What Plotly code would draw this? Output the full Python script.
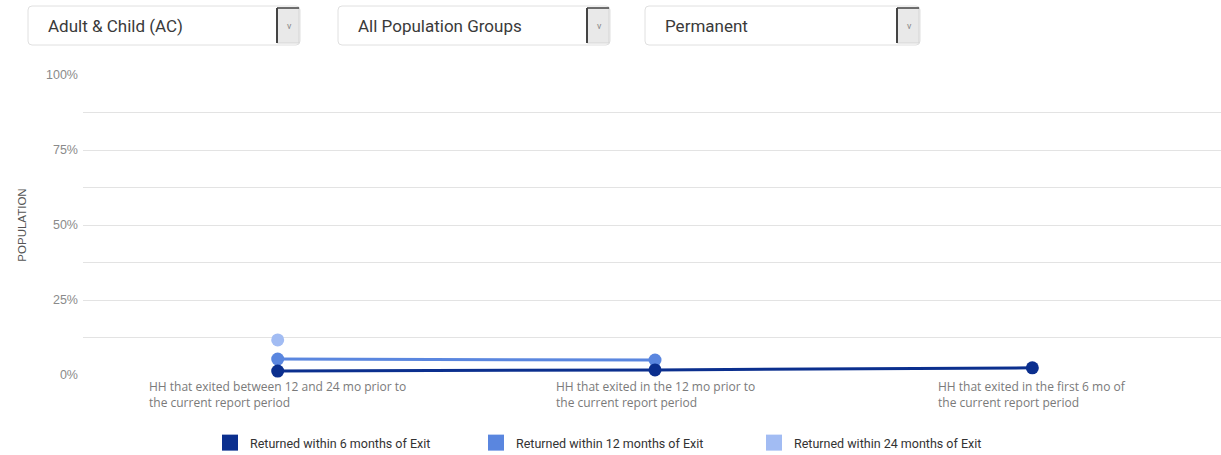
import plotly.graph_objects as go

categories = [
    "HH that exited between 12 and 24 mo prior to<br>the current report period",
    "HH that exited in the 12 mo prior to<br>the current report period",
    "HH that exited in the first 6 mo of<br>the current report period",
]
series_names = [
    "Returned within 6 months of Exit",
    "Returned within 12 months of Exit",
    "Returned within 24 months of Exit",
]
returned_6mo = [1.3, 1.7, 2.4]
returned_12mo = [5.3, 5.0, None]
returned_24mo = [11.7, None, None]
series_values = [returned_6mo, returned_12mo, returned_24mo]
colors = ["#0b2f8e", "#5a86df", "#a2bcf3"]

dropdown_labels = ["Adult & Child (AC)", "All Population Groups", "Permanent"]
y_tickvals = [0, 12.5, 25, 37.5, 50, 62.5, 75, 87.5, 100]
y_ticktext = ["0%", "", "25%", "", "50%", "", "75%", "", "100%"]

W, H = 1221, 455
ML, MR, MT, MB = 83, 0, 75, 80
PW, PH = W - ML - MR, H - MT - MB


def px(xp):
    return (xp - ML) / PW


def py(yp):
    return (H - MB - yp) / PH


def rounded_rect(x0, y0, x1, y1, r):
    X0, X1 = px(x0), px(x1)
    Y0, Y1 = py(y1), py(y0)  # bottom, top in paper coords
    rx, ry = r / PW, r / PH
    return (f"M {X0+rx},{Y0} L {X1-rx},{Y0} Q {X1},{Y0} {X1},{Y0+ry} "
            f"L {X1},{Y1-ry} Q {X1},{Y1} {X1-rx},{Y1} L {X0+rx},{Y1} "
            f"Q {X0},{Y1} {X0},{Y1-ry} L {X0},{Y0+ry} Q {X0},{Y0} {X0+rx},{Y0} Z")


fig = go.Figure()

# draw in reverse so the dark series is on top
for name, vals, col in reversed(list(zip(series_names, series_values, colors))):
    fig.add_trace(go.Scatter(
        x=list(range(len(categories))), y=vals, mode="lines+markers", name=name,
        line=dict(color=col, width=3), marker=dict(color=col, size=13),
        showlegend=False, cliponaxis=False, connectgaps=False,
    ))

# legend-only square swatches, each in its own legend for exact placement
legend_ids = ["legend", "legend2", "legend3"]
legend_left_px = [210, 476, 754]
for name, col, lid in zip(series_names, colors, legend_ids):
    fig.add_trace(go.Scatter(
        x=[None], y=[None], mode="markers", name=name, legend=lid,
        marker=dict(color=col, size=19, symbol="square"), showlegend=True,
    ))

# category labels (left-aligned two-line blocks centred on the category)
for i, cat in enumerate(categories):
    fig.add_annotation(
        x=i, xref="x", y=0, yref="paper", yanchor="top", yshift=-1,
        text=cat, showarrow=False, align="left",
        font=dict(family="Open Sans, Arial, sans-serif", size=12, color="#7a7a7a"),
    )

# dropdown boxes
boxes = [(28, 300), (338, 610), (645, 920)]
for (x0, x1), label in zip(boxes, dropdown_labels):
    fig.add_shape(type="path", xref="paper", yref="paper",
                  path=rounded_rect(x0, 6, x1, 45, 4),
                  line=dict(color="#e0e0e0", width=1), fillcolor="white", layer="above")
    fig.add_shape(type="rect", xref="paper", yref="paper",
                  x0=px(x1 - 23), x1=px(x1 - 1), y0=py(43), y1=py(8),
                  line=dict(color="#d4d4d4", width=1), fillcolor="#e9e9e9", layer="above")
    fig.add_shape(type="line", xref="paper", yref="paper",
                  x0=px(x1 - 23), x1=px(x1 - 23), y0=py(43), y1=py(8),
                  line=dict(color="#444444", width=2), layer="above")
    fig.add_shape(type="line", xref="paper", yref="paper",
                  x0=px(x1 - 23), x1=px(x1 - 1), y0=py(8), y1=py(8),
                  line=dict(color="#444444", width=1.5), layer="above")
    fig.add_annotation(x=px(x0 + 18), y=py(26), xref="paper", yref="paper",
                       xanchor="left", yanchor="middle", showarrow=False, text=label,
                       font=dict(family="Roboto, Arial, sans-serif", size=17, color="#3a3a3a"))
    fig.add_annotation(x=px(x1 - 11), y=py(26), xref="paper", yref="paper",
                       xanchor="center", yanchor="middle", showarrow=False, text="v",
                       font=dict(family="Roboto, Arial, sans-serif", size=9, color="#888888"))

legend_common = dict(orientation="h", y=py(443), yanchor="middle", xanchor="left",
                     font=dict(size=12.5, color="#333333", family="Roboto, Arial, sans-serif"),
                     itemwidth=30, bgcolor="rgba(0,0,0,0)")

fig.update_layout(
    width=W, height=H,
    margin=dict(l=ML, r=MR, t=MT, b=MB, pad=0, autoexpand=False),
    paper_bgcolor="white", plot_bgcolor="white",
    font=dict(family="Roboto, Arial, sans-serif", color="#777777"),
    xaxis=dict(range=[-0.516, 2.5], showticklabels=False, showgrid=False,
               zeroline=False, showline=False, fixedrange=True),
    yaxis=dict(range=[0, 100], tickvals=y_tickvals, ticktext=y_ticktext,
               showgrid=True, gridcolor="#e3e3e3", gridwidth=1.2, zeroline=False,
               showline=False, ticks="", ticklabelstandoff=4,
               tickfont=dict(size=12.5, color="#8a8a8a", family="Arial, Liberation Sans, sans-serif"),
               title=dict(text="POPULATION", standoff=16,
                          font=dict(size=11.5, color="#555555", family="Arial, Liberation Sans, sans-serif"))),
    legend=dict(x=px(legend_left_px[0]), **legend_common),
    legend2=dict(x=px(legend_left_px[1]), **legend_common),
    legend3=dict(x=px(legend_left_px[2]), **legend_common),
    showlegend=True,
)

fig.write_html("out.html", config={"displayModeBar": False},
               post_script="document.body.style.margin='0';document.body.style.overflow='hidden';")
